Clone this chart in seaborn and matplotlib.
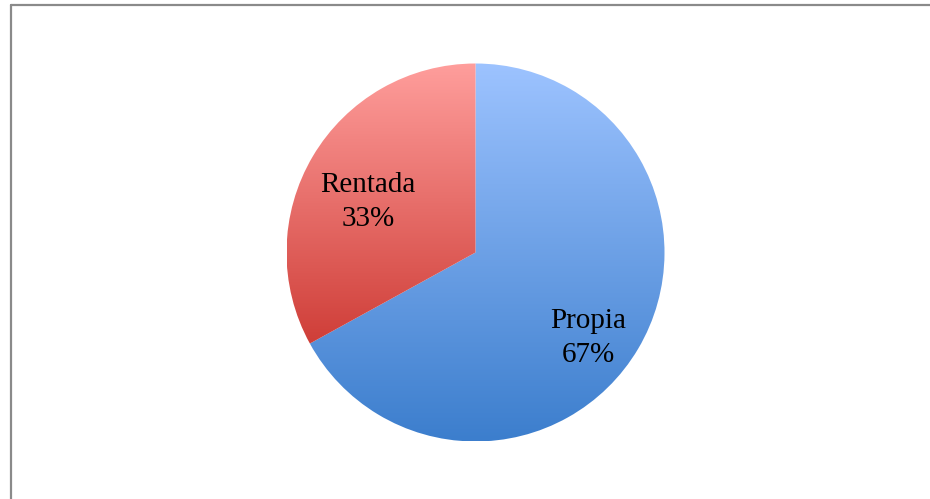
import numpy as np
import matplotlib
matplotlib.use("Agg")
import matplotlib.pyplot as plt
from matplotlib.colors import LinearSegmentedColormap
from matplotlib.lines import Line2D
import seaborn as sns

categories = ["Propia", "Rentada"]
values = [67, 33]
pct_labels = ["67%", "33%"]
top_colors = ["#9DC3FF", "#FF9E9C"]
bottom_colors = ["#3C7ECD", "#CF3E38"]

sns.set_theme(style="white")
plt.rcParams['font.family'] = ['Liberation Serif', 'DejaVu Serif']

W, H = 930, 499
fig = plt.figure(figsize=(W / 100, H / 100), dpi=100)
ax = fig.add_axes([0, 0, 1, 1])

cx, cy, r = 475.5, H - 252.5, 189
wedges, _ = ax.pie(values, startangle=90, counterclock=False,
                   center=(cx, cy), radius=r, frame=True,
                   wedgeprops=dict(linewidth=0))
ax.set_xlim(0, W)
ax.set_ylim(0, H)
ax.set_aspect('equal')
ax.axis('off')

grad = np.linspace(1, 0, 256).reshape(-1, 1)
for w, ct, cb in zip(wedges, top_colors, bottom_colors):
    bb = w.get_path().get_extents(w.get_patch_transform())
    cmap = LinearSegmentedColormap.from_list("g", [cb, ct])
    w.set_facecolor("none")
    im = ax.imshow(grad, cmap=cmap, aspect='auto', origin='upper',
                   extent=[bb.x0, bb.x1, bb.y0, bb.y1], interpolation='bilinear',
                   zorder=1)
    im.set_clip_path(w)

# labels
label_offsets = [(113.0, -85.5), (-107.5, 51.0)]
for cat, pct, (dx, dy) in zip(categories, pct_labels, label_offsets):
    ax.text(cx + dx, cy + dy, f"{cat}\n{pct}", ha='center', va='center',
            fontsize=21, color='black', linespacing=1.4, zorder=3)

ax.set_xlim(0, W)
ax.set_ylim(0, H)

# border lines
fig.add_artist(Line2D([10.5 / W, 1], [1 - 4.5 / H, 1 - 4.5 / H], color='#8a8a8a', lw=1.6,
                      transform=fig.transFigure))
fig.add_artist(Line2D([10.5 / W, 10.5 / W], [0, 1 - 4.5 / H], color='#8a8a8a', lw=1.6,
                      transform=fig.transFigure))

fig.savefig("out.png", dpi=100)
